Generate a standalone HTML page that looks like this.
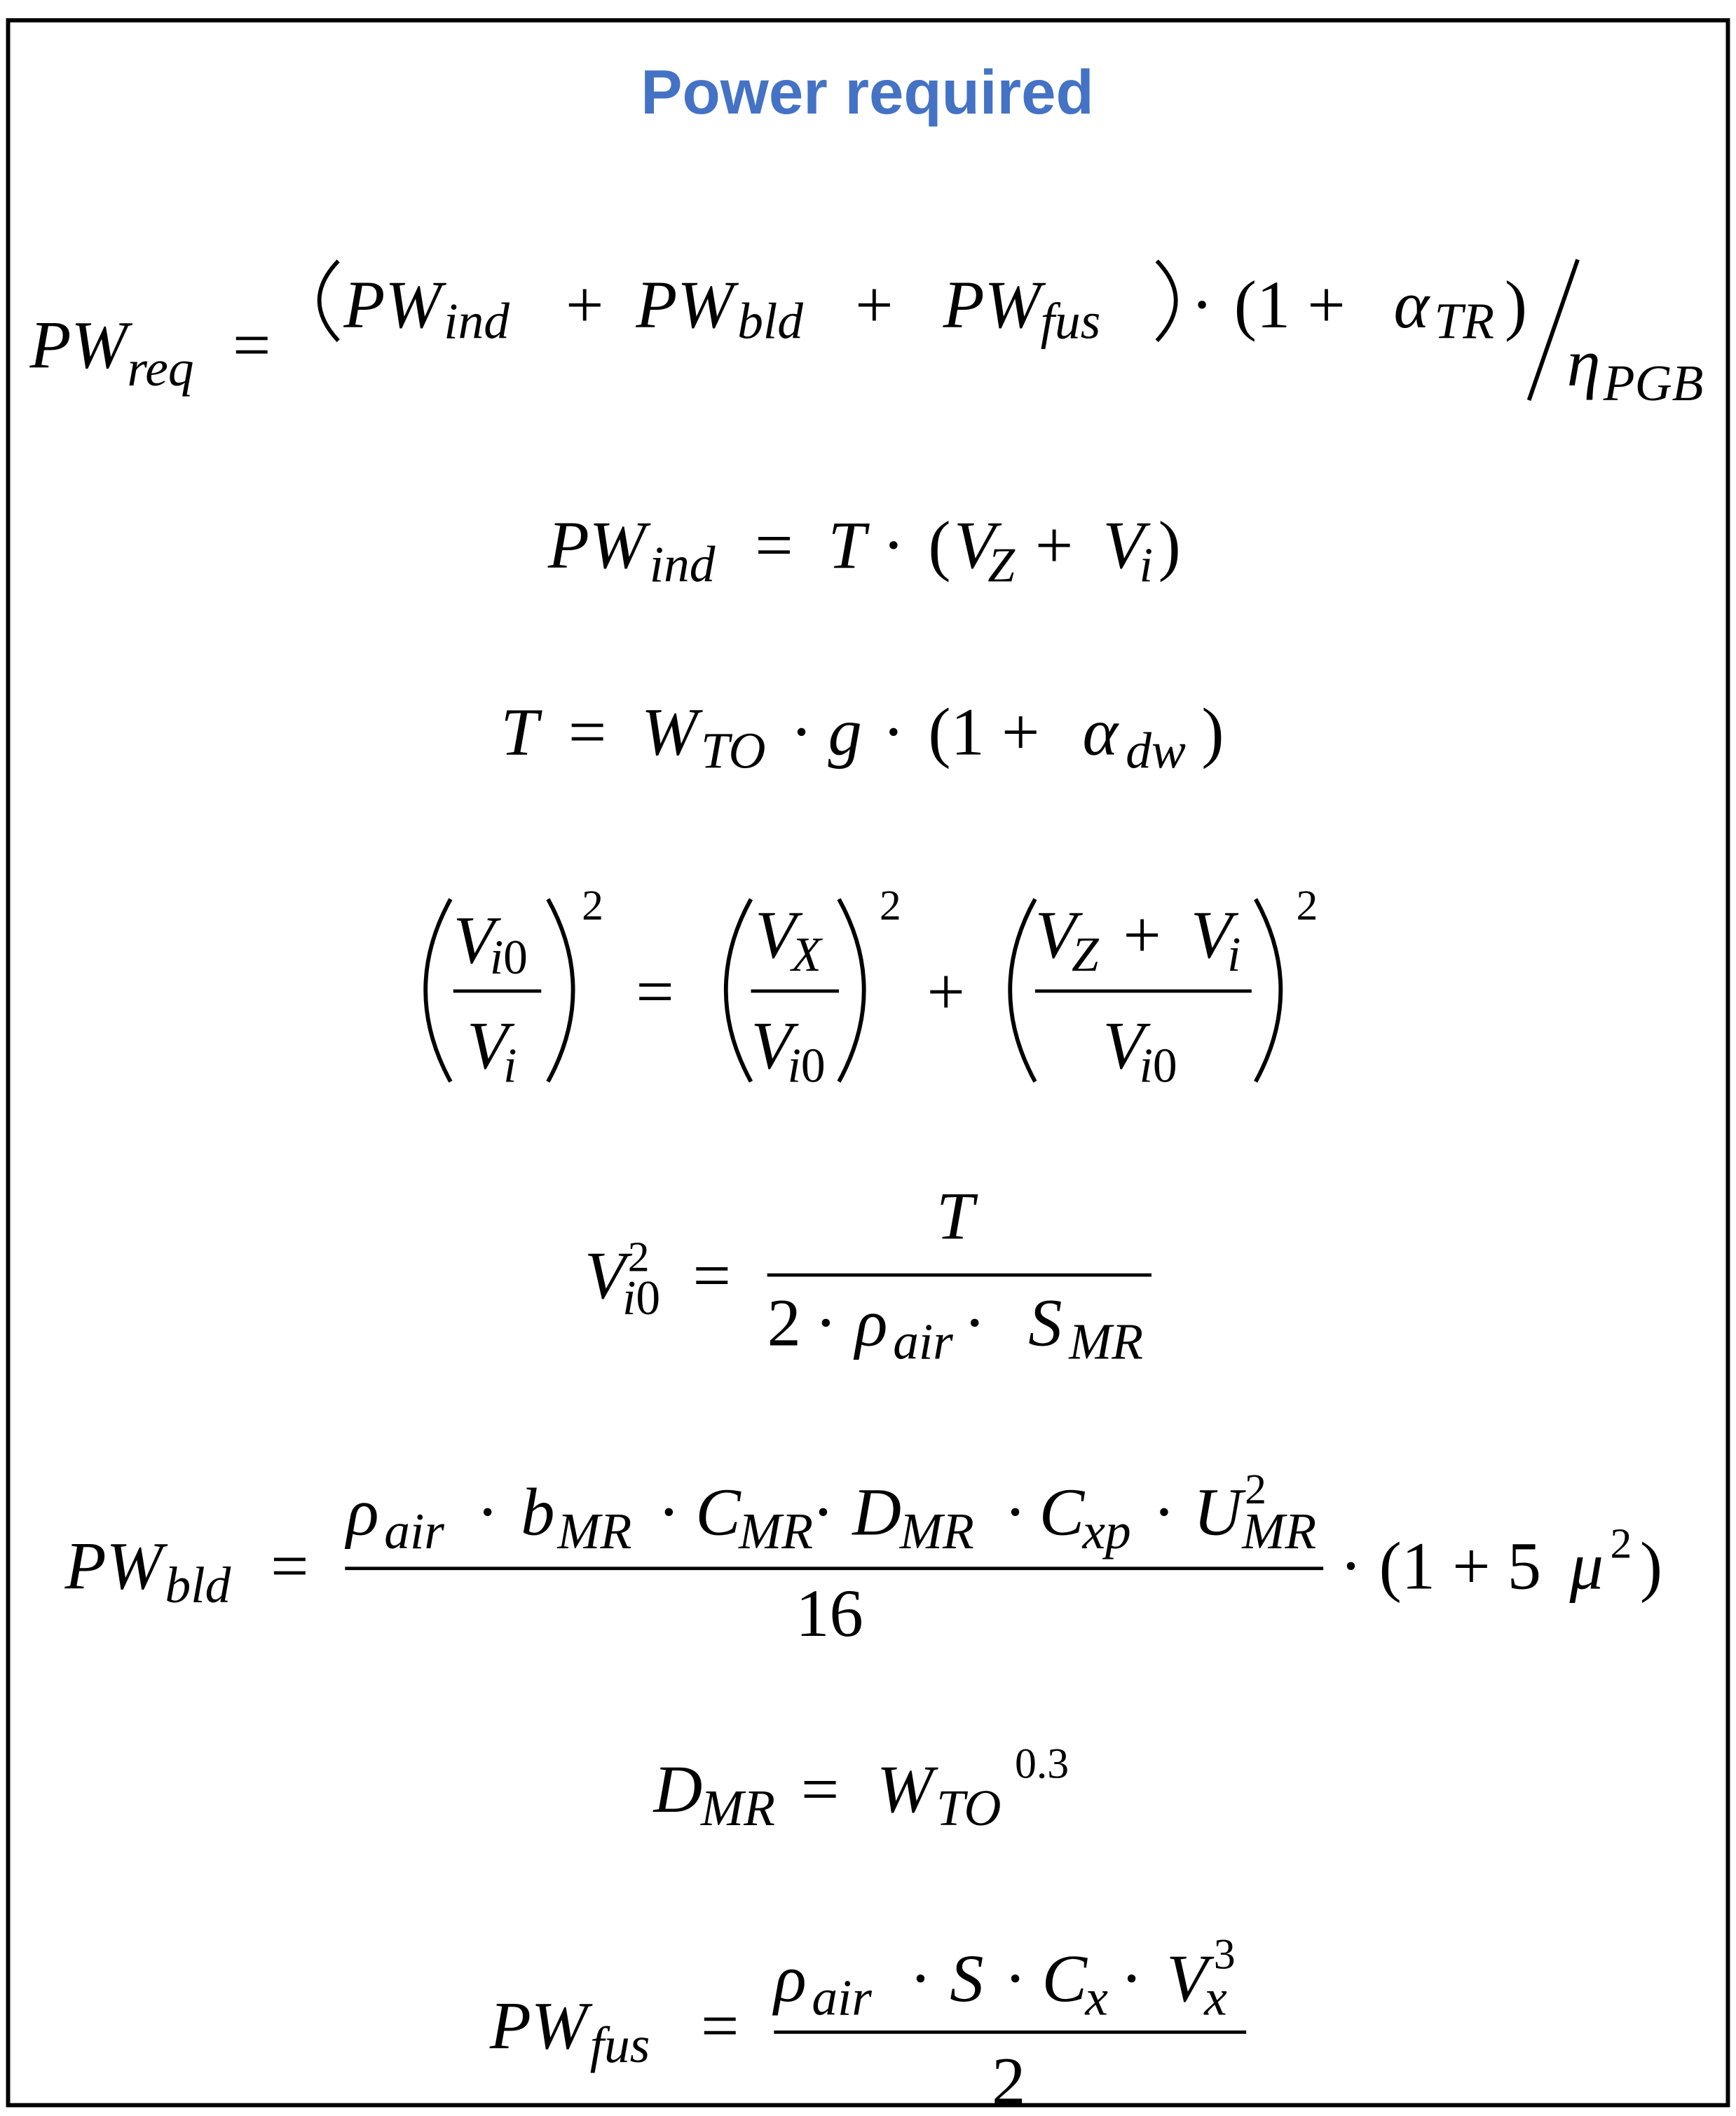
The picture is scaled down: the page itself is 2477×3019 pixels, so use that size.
<!DOCTYPE html>
<html><head><meta charset="utf-8"><style>
html,body{margin:0;padding:0;background:#fff;}
svg{display:block}
.m{font-family:"Liberation Serif",serif;font-style:italic;fill:#000}
.u{font-style:normal}
</style></head><body>
<svg width="2477" height="3019" viewBox="0 0 1283 1565" preserveAspectRatio="none" xmlns="http://www.w3.org/2000/svg">
<rect x="6" y="15" width="1271" height="1542" fill="#fff" stroke="#000" stroke-width="3"/>
<text x="641" y="84" text-anchor="middle" font-family="Liberation Sans, sans-serif" font-weight="bold" font-size="46" fill="#4472c4">Power required</text>

<g fill="none" stroke="#000" stroke-width="3">
<path d="M250,193 Q222,222 250,252"/>
<path d="M855,193 Q883,222 855,252"/>
<path d="M333,665 Q296,732 333,800"/>
<path d="M405,665 Q442,732 405,800"/>
<path d="M555,665 Q518,732 555,800"/>
<path d="M620,665 Q657,732 620,800"/>
<path d="M765,665 Q728,732 765,800"/>
<path d="M928,665 Q965,732 928,800"/>
</g>

<g class="m" font-size="50">
<!-- Eq1 -->
<text x="22" y="272">PW</text><text x="94" y="285" font-size="38">req</text>
<text x="172" y="272" class="u">=</text>
<text x="254" y="242">PW</text><text x="328" y="250" font-size="38">ind</text>
<text x="418" y="242" class="u">+</text>
<text x="470" y="242">PW</text><text x="545" y="250" font-size="38">bld</text>
<text x="632" y="242" class="u">+</text>
<text x="697" y="242">PW</text><text x="769" y="250" font-size="38">fus</text>
<text x="880" y="242" class="u">·</text>
<text x="912" y="242" class="u">(1 +</text>
<text x="1030" y="242">α</text><text x="1060" y="250" font-size="38">TR</text>
<text x="1112" y="242" class="u">)</text>
<line x1="1166" y1="192" x2="1130" y2="296" stroke="#000" stroke-width="3"/>
<text x="1158" y="285">η</text><text x="1185" y="296" font-size="38">PGB</text>

<!-- Eq2 -->
<text x="405" y="420">PW</text><text x="480" y="430" font-size="38">ind</text>
<text x="558" y="420" class="u">=</text>
<text x="612" y="420">T</text>
<text x="652" y="420" class="u">·</text>
<text x="686" y="420" class="u">(</text>
<text x="705" y="420">V</text><text x="730" y="430" font-size="36">Z</text>
<text x="765" y="420" class="u">+</text>
<text x="815" y="420">V</text><text x="842" y="430" font-size="36">i</text>
<text x="856" y="420" class="u">)</text>

<!-- Eq3 -->
<text x="370" y="558">T</text>
<text x="420" y="558" class="u">=</text>
<text x="474" y="558">W</text><text x="518" y="568" font-size="38">TO</text>
<text x="584" y="558" class="u">·</text>
<text x="612" y="558">g</text>
<text x="652" y="558" class="u">·</text>
<text x="686" y="558" class="u">(1 +</text>
<text x="800" y="558">α</text><text x="832" y="568" font-size="38">dw</text>
<text x="888" y="558" class="u">)</text>

<!-- Eq4 -->
<text x="335" y="712">V</text><text x="362" y="720" font-size="36">i</text><text x="372" y="720" font-size="36" class="u">0</text>
<line x1="335" y1="733" x2="400" y2="733" stroke="#000" stroke-width="2.5"/>
<text x="345" y="790">V</text><text x="372" y="800" font-size="36">i</text>
<text x="430" y="680" class="u" font-size="32">2</text>
<text x="470" y="750" class="u">=</text>
<text x="558" y="708">V</text><text x="585" y="718" font-size="36">X</text>
<line x1="555" y1="733" x2="620" y2="733" stroke="#000" stroke-width="2.5"/>
<text x="555" y="790">V</text><text x="582" y="800" font-size="36">i</text><text x="592" y="800" font-size="36" class="u">0</text>
<text x="650" y="680" class="u" font-size="32">2</text>
<text x="685" y="750" class="u">+</text>
<text x="765" y="708">V</text><text x="792" y="718" font-size="36">Z</text>
<text x="830" y="708" class="u">+</text>
<text x="880" y="708">V</text><text x="907" y="718" font-size="36">i</text>
<line x1="765" y1="733" x2="925" y2="733" stroke="#000" stroke-width="2.5"/>
<text x="815" y="790">V</text><text x="842" y="800" font-size="36">i</text><text x="852" y="800" font-size="36" class="u">0</text>
<text x="958" y="680" class="u" font-size="32">2</text>

<!-- Eq5 -->
<text x="432" y="960">V</text><text x="464" y="940" font-size="32" class="u">2</text>
<text x="460" y="972" font-size="36">i</text><text x="470" y="972" font-size="36" class="u">0</text>
<text x="512" y="960" class="u">=</text>
<text x="692" y="916">T</text>
<line x1="567" y1="943" x2="851" y2="943" stroke="#000" stroke-width="2.5"/>
<text x="567" y="995" class="u">2</text>
<text x="602" y="995" class="u">·</text>
<text x="632" y="995">ρ</text><text x="660" y="1005" font-size="38">air</text>
<text x="712" y="995" class="u">·</text>
<text x="760" y="995">S</text><text x="790" y="1005" font-size="38">MR</text>

<!-- Eq6 -->
<text x="48" y="1175">PW</text><text x="122" y="1185" font-size="38">bld</text>
<text x="200" y="1175" class="u">=</text>
<text x="256" y="1135">ρ</text><text x="284" y="1145" font-size="38">air</text>
<text x="352" y="1135" class="u">·</text>
<text x="385" y="1135">b</text><text x="412" y="1145" font-size="38">MR</text>
<text x="486" y="1135" class="u">·</text>
<text x="514" y="1135">C</text><text x="546" y="1145" font-size="38">MR</text>
<text x="600" y="1135" class="u">·</text>
<text x="630" y="1135">D</text><text x="665" y="1145" font-size="38">MR</text>
<text x="742" y="1135" class="u">·</text>
<text x="768" y="1135">C</text><text x="800" y="1145" font-size="38">xp</text>
<text x="852" y="1135" class="u">·</text>
<text x="882" y="1135">U</text><text x="920" y="1112" font-size="32" class="u">2</text><text x="918" y="1145" font-size="38">MR</text>
<line x1="255" y1="1160" x2="978" y2="1160" stroke="#000" stroke-width="2.5"/>
<text x="588" y="1210" class="u">16</text>
<text x="990" y="1175" class="u">· (1 + 5</text>
<text x="1160" y="1175">μ</text><text x="1190" y="1152" font-size="32" class="u">2</text>
<text x="1212" y="1175" class="u">)</text>

<!-- Eq7 -->
<text x="483" y="1340">D</text><text x="518" y="1350" font-size="38">MR</text>
<text x="592" y="1340" class="u">=</text>
<text x="648" y="1340">W</text><text x="692" y="1350" font-size="38">TO</text>
<text x="750" y="1315" font-size="32" class="u">0.3</text>

<!-- Eq8 -->
<text x="362" y="1515">PW</text><text x="436" y="1525" font-size="38">fus</text>
<text x="518" y="1515" class="u">=</text>
<text x="572" y="1480">ρ</text><text x="600" y="1490" font-size="38">air</text>
<text x="672" y="1480" class="u">·</text>
<text x="702" y="1480">S</text>
<text x="742" y="1480" class="u">·</text>
<text x="770" y="1480">C</text><text x="802" y="1490" font-size="38">x</text>
<text x="828" y="1480" class="u">·</text>
<text x="862" y="1480">V</text><text x="897" y="1456" font-size="32" class="u">3</text><text x="890" y="1490" font-size="38">x</text>
<line x1="572" y1="1503" x2="921" y2="1503" stroke="#000" stroke-width="2.5"/>
<text x="733" y="1556" class="u">2</text>
</g>
<rect x="6" y="15" width="1271" height="1542" fill="none" stroke="#000" stroke-width="3"/>
</svg>
</body></html>
